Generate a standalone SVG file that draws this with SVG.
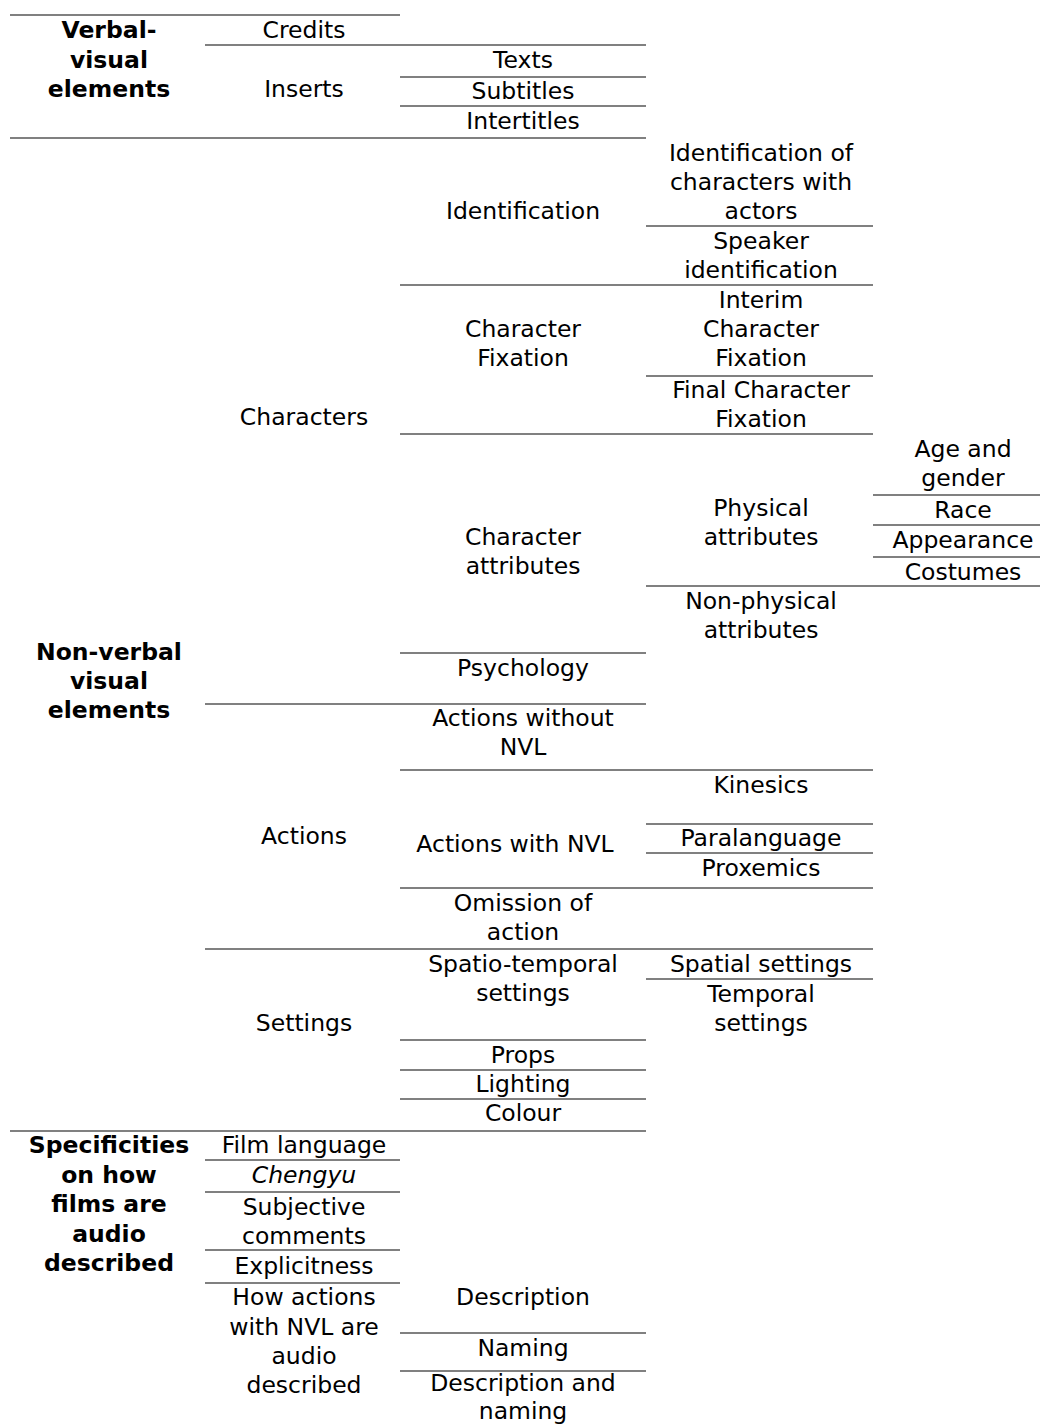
<svg xmlns="http://www.w3.org/2000/svg" width="1040" height="1425" viewBox="0 0 1040 1425">
<style>
text{font-family:"DejaVu Sans","Verdana",sans-serif;font-size:23.5px;fill:#000;text-anchor:middle}
.b{font-weight:bold}
.i{font-style:italic}
line{stroke:#808080;stroke-width:2}
</style>
<rect width="1040" height="1425" fill="#fff"/>
<g id="rules">
<line x1="10" y1="15" x2="400" y2="15"/>
<line x1="205" y1="45" x2="646" y2="45"/>
<line x1="400" y1="77" x2="646" y2="77"/>
<line x1="400" y1="106" x2="646" y2="106"/>
<line x1="10" y1="138" x2="646" y2="138"/>
<line x1="646" y1="226" x2="873" y2="226"/>
<line x1="400" y1="285" x2="873" y2="285"/>
<line x1="646" y1="376" x2="873" y2="376"/>
<line x1="400" y1="434" x2="873" y2="434"/>
<line x1="873" y1="495" x2="1040" y2="495"/>
<line x1="873" y1="525" x2="1040" y2="525"/>
<line x1="873" y1="557" x2="1040" y2="557"/>
<line x1="646" y1="586" x2="1040" y2="586"/>
<line x1="400" y1="653" x2="646" y2="653"/>
<line x1="205" y1="704" x2="646" y2="704"/>
<line x1="400" y1="770" x2="873" y2="770"/>
<line x1="646" y1="824" x2="873" y2="824"/>
<line x1="646" y1="853" x2="873" y2="853"/>
<line x1="400" y1="888" x2="873" y2="888"/>
<line x1="205" y1="949" x2="873" y2="949"/>
<line x1="646" y1="979" x2="873" y2="979"/>
<line x1="400" y1="1040" x2="646" y2="1040"/>
<line x1="400" y1="1070" x2="646" y2="1070"/>
<line x1="400" y1="1099" x2="646" y2="1099"/>
<line x1="10" y1="1131" x2="646" y2="1131"/>
<line x1="205" y1="1160" x2="400" y2="1160"/>
<line x1="205" y1="1192" x2="400" y2="1192"/>
<line x1="205" y1="1250" x2="400" y2="1250"/>
<line x1="205" y1="1283" x2="400" y2="1283"/>
<line x1="400" y1="1333" x2="646" y2="1333"/>
<line x1="400" y1="1371" x2="646" y2="1371"/>
</g>
<g id="verbal-visual"><text class="b" x="109" y="38">Verbal-</text><text class="b" x="109" y="68">visual</text><text class="b" x="109" y="97">elements</text></g>
<g id="credits"><text x="304" y="38">Credits</text></g>
<g id="inserts"><text x="304" y="97">Inserts</text></g>
<g id="texts"><text x="523" y="68">Texts</text></g>
<g id="subtitles"><text x="523" y="99">Subtitles</text></g>
<g id="intertitles"><text x="523" y="129">Intertitles</text></g>
<g id="identification"><text x="523" y="219">Identification</text></g>
<g id="id-actors"><text x="761" y="161">Identification of</text><text x="761" y="190">characters with</text><text x="761" y="219">actors</text></g>
<g id="speaker-id"><text x="761" y="249">Speaker</text><text x="761" y="278">identification</text></g>
<g id="character-fixation"><text x="523" y="337">Character</text><text x="523" y="366">Fixation</text></g>
<g id="interim-fixation"><text x="761" y="308">Interim</text><text x="761" y="337">Character</text><text x="761" y="366">Fixation</text></g>
<g id="final-fixation"><text x="761" y="398">Final Character</text><text x="761" y="427">Fixation</text></g>
<g id="characters"><text x="304" y="425">Characters</text></g>
<g id="character-attributes"><text x="523" y="545">Character</text><text x="523" y="574">attributes</text></g>
<g id="physical-attributes"><text x="761" y="516">Physical</text><text x="761" y="545">attributes</text></g>
<g id="age-gender"><text x="963" y="457">Age and</text><text x="963" y="486">gender</text></g>
<g id="race"><text x="963" y="518">Race</text></g>
<g id="appearance"><text x="963" y="548">Appearance</text></g>
<g id="costumes"><text x="963" y="580">Costumes</text></g>
<g id="non-physical"><text x="761" y="609">Non-physical</text><text x="761" y="638">attributes</text></g>
<g id="non-verbal"><text class="b" x="109" y="660">Non-verbal</text><text class="b" x="109" y="689">visual</text><text class="b" x="109" y="718">elements</text></g>
<g id="psychology"><text x="523" y="676">Psychology</text></g>
<g id="actions-without"><text x="523" y="726">Actions without</text><text x="523" y="755">NVL</text></g>
<g id="actions"><text x="304" y="844">Actions</text></g>
<g id="actions-with"><text x="515" y="852">Actions with NVL</text></g>
<g id="kinesics"><text x="761" y="793">Kinesics</text></g>
<g id="paralanguage"><text x="761" y="846">Paralanguage</text></g>
<g id="proxemics"><text x="761" y="876">Proxemics</text></g>
<g id="omission"><text x="523" y="911">Omission of</text><text x="523" y="940">action</text></g>
<g id="settings"><text x="304" y="1031">Settings</text></g>
<g id="spatio-temporal"><text x="523" y="972">Spatio-temporal</text><text x="523" y="1001">settings</text></g>
<g id="spatial"><text x="761" y="972">Spatial settings</text></g>
<g id="temporal"><text x="761" y="1002">Temporal</text><text x="761" y="1031">settings</text></g>
<g id="props"><text x="523" y="1063">Props</text></g>
<g id="lighting"><text x="523" y="1092">Lighting</text></g>
<g id="colour"><text x="523" y="1121">Colour</text></g>
<g id="specificities"><text class="b" x="109" y="1153">Specificities</text><text class="b" x="109" y="1183">on how</text><text class="b" x="109" y="1212">films are</text><text class="b" x="109" y="1242">audio</text><text class="b" x="109" y="1271">described</text></g>
<g id="film-language"><text x="304" y="1153">Film language</text></g>
<g id="chengyu"><text class="i" x="304" y="1183">Chengyu</text></g>
<g id="subjective"><text x="304" y="1215">Subjective</text><text x="304" y="1244">comments</text></g>
<g id="explicitness"><text x="304" y="1274">Explicitness</text></g>
<g id="how-actions"><text x="304" y="1305">How actions</text><text x="304" y="1335">with NVL are</text><text x="304" y="1364">audio</text><text x="304" y="1393">described</text></g>
<g id="description"><text x="523" y="1305">Description</text></g>
<g id="naming"><text x="523" y="1356">Naming</text></g>
<g id="description-naming"><text x="523" y="1391">Description and</text><text x="523" y="1419">naming</text></g>
</svg>
